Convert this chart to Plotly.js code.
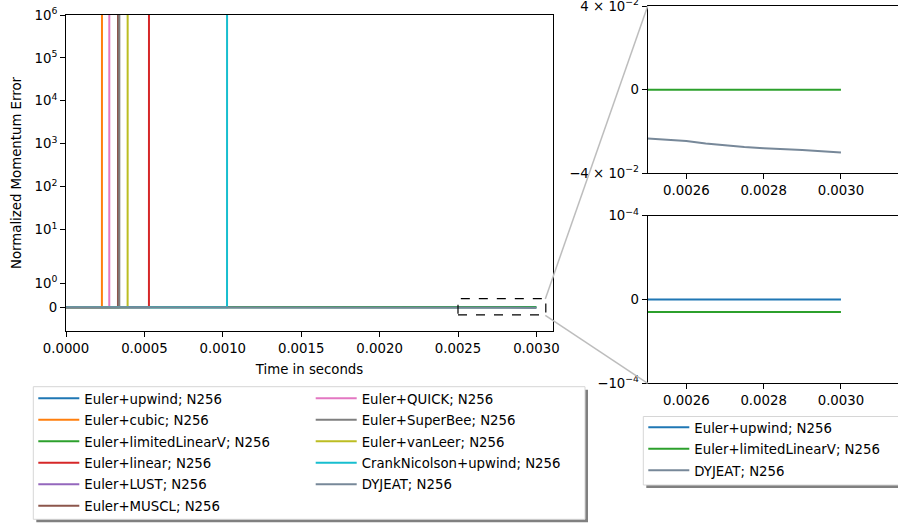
<!DOCTYPE html>
<html><head><meta charset="utf-8">
<script src="https://cdn.plot.ly/plotly-3.0.1.min.js"></script>
<style>html,body{margin:0;padding:0;background:#fff}</style>
</head><body><div id="chart" style="width:898px;height:525px"></div>
<script>
// ---------------- data ----------------
const seriesNames = [
  "Euler+upwind; N256", "Euler+cubic; N256", "Euler+limitedLinearV; N256",
  "Euler+linear; N256", "Euler+LUST; N256", "Euler+MUSCL; N256",
  "Euler+QUICK; N256", "Euler+SuperBee; N256", "Euler+vanLeer; N256",
  "CrankNicolson+upwind; N256", "DYJEAT; N256"
];
const seriesColors = ["#1f77b4", "#ff7f0e", "#2ca02c", "#d62728", "#9467bd", "#8c564b",
  "#e377c2", "#7f7f7f", "#bcbd22", "#17becf", "#778899"];

const upwindT = [0, 0.0005, 0.001, 0.0015, 0.002, 0.0025, 0.0026, 0.0028, 0.003];
const upwindY = [0, 0, 0, 0, 0, 0, 0, 0, 0];
const cubicT = [0, 0.000229, 0.0002296];
const cubicY = [0, 0, 1e9];
const limitedLinearVT = [0, 0.0005, 0.001, 0.0015, 0.002, 0.0025, 0.0026, 0.0028, 0.003];
const limitedLinearVY = [-1.5e-5, -1.5e-5, -1.5e-5, -1.5e-5, -1.5e-5, -1.5e-5, -1.5e-5, -1.5e-5, -1.5e-5];
const linearT = [0, 0.000529, 0.0005293];
const linearY = [0, 0, 1e9];
const lustT = [0, 0.000333, 0.0003333];
const lustY = [0, 0, 1e9];
const musclT = [0, 0.0003315, 0.0003318];
const musclY = [0, 0, 1e9];
const quickT = [0, 0.000276, 0.0002763];
const quickY = [0, 0, 1e9];
const superBeeT = [0, 0.00034, 0.0003403];
const superBeeY = [0, 0, 1e9];
const vanLeerT = [0, 0.000393, 0.0003933];
const vanLeerY = [0, 0, 1e9];
const crankT = [0, 0.001027, 0.0010273];
const crankY = [0, 0, 1e9];
const dyjeatT = [0, 0.0005, 0.001, 0.0015, 0.002, 0.0025, 0.00255, 0.0026, 0.00265, 0.0027, 0.00275, 0.0028, 0.00285, 0.0029, 0.00295, 0.003];
const dyjeatY = [0, -0.004, -0.009, -0.014, -0.019, -0.0234, -0.0238, -0.0245, -0.0257, -0.0267, -0.0274, -0.028, -0.0283, -0.0288, -0.0294, -0.0301];

const mainXTicks = [0, 0.0005, 0.001, 0.0015, 0.002, 0.0025, 0.003];
const mainYTicks = [0, 1, 10, 100, 1000, 10000, 100000, 1000000];
const mainYTickText = ["0", "10<sup>0</sup>", "10<sup>1</sup>", "10<sup>2</sup>", "10<sup>3</sup>",
  "10<sup>4</sup>", "10<sup>5</sup>", "10<sup>6</sup>"];
const insetXTicks = [0.0026, 0.0028, 0.003];
const topInsetYTicks = [-0.04, 0, 0.04];
const topInsetYTickText = ["\u22124 \u00d7 10<sup>\u22122</sup>", "0", "4 \u00d7 10<sup>\u22122</sup>"];
const botInsetYTicks = [-1e-4, 0, 1e-4];
const botInsetYTickText = ["\u221210<sup>\u22124</sup>", "0", "10<sup>\u22124</sup>"];
const zoomBoxX = [0.0025, 0.00306];
const zoomBoxY = [-0.32, 0.36];

// ---------------- symlog transform (linthresh 2, linscale 1) ----------------
const LT = 2, LS = 1 / (1 - 1 / 10);
function symlog(v) {
  const a = Math.abs(v), s = v < 0 ? -1 : 1;
  if (a <= LT) return v * LS;
  return s * LT * (LS + Math.log10(a / LT));
}

const FONT = "DejaVu Sans";
const W = 898, H = 525;
const px = x => x / W, py = y => 1 - y / H;

const mainT = [upwindT, cubicT, limitedLinearVT, linearT, lustT, musclT, quickT, superBeeT, vanLeerT, crankT, dyjeatT];
const mainY = [upwindY, cubicY, limitedLinearVY, linearY, lustY, musclY, quickY, superBeeY, vanLeerY, crankY, dyjeatY];

const traces = [];
mainT.forEach((t, i) => {
  traces.push({
    x: t, y: mainY[i].map(symlog), type: "scatter", mode: "lines",
    name: seriesNames[i], line: {color: seriesColors[i], width: 2},
    xaxis: "x", yaxis: "y", legend: i < 6 ? "legend" : "legend2",
    legendgroup: "m" + i, hoverinfo: "skip"
  });
});
// insets
traces.push({x: upwindT, y: upwindY, type: "scatter", mode: "lines", name: seriesNames[0],
  line: {color: seriesColors[0], width: 2}, xaxis: "x3", yaxis: "y3", legend: "legend3", legendgroup: "i0"});
traces.push({x: limitedLinearVT, y: limitedLinearVY, type: "scatter", mode: "lines", name: seriesNames[2],
  line: {color: seriesColors[2], width: 2}, xaxis: "x3", yaxis: "y3", legend: "legend3", legendgroup: "i2"});
traces.push({x: limitedLinearVT, y: limitedLinearVY, type: "scatter", mode: "lines", name: seriesNames[2],
  line: {color: seriesColors[2], width: 2}, xaxis: "x2", yaxis: "y2", showlegend: false, legend: "legend3", legendgroup: "i2"});
traces.push({x: dyjeatT, y: dyjeatY, type: "scatter", mode: "lines", name: seriesNames[10],
  line: {color: seriesColors[10], width: 2}, xaxis: "x2", yaxis: "y2", legend: "legend3", legendgroup: "i10"});

const tickFont = {family: FONT, size: 13.3, color: "#000"};
const axBase = {showgrid: false, zeroline: false, showline: true, linecolor: "#000", linewidth: 1,
  ticks: "outside", ticklen: 5, tickwidth: 1, tickcolor: "#000", tickfont: tickFont, automargin: false,
  ticklabeloverflow: "allow"};

const legBase = {xanchor: "left", yanchor: "top", bgcolor: "rgba(0,0,0,0)", borderwidth: 0,
  font: {family: FONT, size: 13.3, color: "#000"}, tracegroupgap: 1.2, orientation: "v", itemwidth: 41};

const insetXDomain = [px(647.7), 1];
const insetXRange = [0.0025, 0.0025 + (W - 647.7) / 386500];

const layout = {
  width: W, height: H, margin: {l: 0, r: 0, t: 0, b: 0},
  paper_bgcolor: "#fff", plot_bgcolor: "rgba(0,0,0,0)",
  font: {family: FONT, size: 13.3, color: "#000"},
  xaxis: Object.assign({}, axBase, {domain: [px(66), px(553)], range: [0, 487 / 156800],
    tickvals: mainXTicks, tickformat: ".4f", mirror: true, anchor: "y",
    title: {text: "Time in seconds", font: {family: FONT, size: 13.3, color: "#000"}, standoff: 9}}),
  yaxis: Object.assign({}, axBase, {domain: [py(331), py(15)], range: [symlog(-1), symlog(1e6)],
    tickvals: mainYTicks.map(symlog), ticktext: mainYTickText, mirror: true, anchor: "x",
    title: {text: "Normalized Momentum Error", font: {family: FONT, size: 13.3, color: "#000"}, standoff: 9}}),
  xaxis2: Object.assign({}, axBase, {domain: insetXDomain, range: insetXRange, anchor: "y2",
    tickvals: insetXTicks, tickformat: ".4f", mirror: true}),
  yaxis2: Object.assign({}, axBase, {domain: [py(173.3), py(6)], range: [-0.04, 0.04], anchor: "x2",
    tickvals: topInsetYTicks, ticktext: topInsetYTickText}),
  xaxis3: Object.assign({}, axBase, {domain: insetXDomain, range: insetXRange, anchor: "y3",
    tickvals: insetXTicks, tickformat: ".4f", mirror: true}),
  yaxis3: Object.assign({}, axBase, {domain: [py(383.3), py(215.7)], range: [-1e-4, 1e-4], anchor: "x3",
    tickvals: botInsetYTicks, ticktext: botInsetYTickText}),
  legend: Object.assign({}, legBase, {x: px(33.3), y: py(383.2)}),
  legend2: Object.assign({}, legBase, {x: px(310.7), y: py(383.2)}),
  legend3: Object.assign({}, legBase, {x: px(643.3), y: py(412.2)}),
  shapes: [
    // legend 1 frame + shadow
    {type: "rect", xref: "paper", yref: "paper", x0: px(36.3), x1: px(588), y0: py(389.7), y1: py(522.3),
      fillcolor: "#808080", line: {width: 0}, layer: "below"},
    {type: "rect", xref: "paper", yref: "paper", x0: px(33.3), x1: px(585), y0: py(386.7), y1: py(519.3),
      fillcolor: "#fff", line: {color: "#d6d6d6", width: 1}, layer: "below"},
    // legend 3 frame + shadow
    {type: "rect", xref: "paper", yref: "paper", x0: px(646.3), x1: px(905), y0: py(419.5), y1: py(488),
      fillcolor: "#808080", line: {width: 0}, layer: "below"},
    {type: "rect", xref: "paper", yref: "paper", x0: px(643.3), x1: px(902), y0: py(416.5), y1: py(485),
      fillcolor: "#fff", line: {color: "#d6d6d6", width: 1}, layer: "below"},
    // zoom box
    {type: "rect", xref: "x", yref: "y", x0: zoomBoxX[0], x1: zoomBoxX[1],
      y0: symlog(zoomBoxY[0]), y1: symlog(zoomBoxY[1]), line: {color: "#000", width: 1.2, dash: "dash"}},
    // connectors
    {type: "line", xref: "paper", yref: "paper", x0: px(545.3), y0: py(299), x1: px(647.7), y1: py(6),
      line: {color: "#bdbdbd", width: 1.5}},
    {type: "line", xref: "paper", yref: "paper", x0: px(545.3), y0: py(315.3), x1: px(647.7), y1: py(383.3),
      line: {color: "#bdbdbd", width: 1.5}}
  ]
};

Plotly.newPlot("chart", traces, layout, {staticPlot: true, displayModeBar: false});
</script></body></html>
